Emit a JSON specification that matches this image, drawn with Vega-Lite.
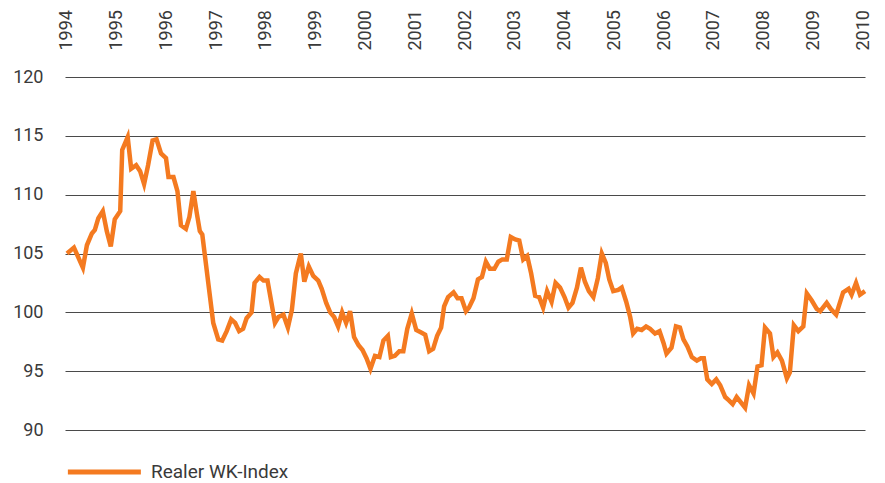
{
  "$schema": "https://vega.github.io/schema/vega-lite/v6.json",
  "autosize": {"type": "none"},
  "padding": {"left": 65, "top": 77, "right": 20, "bottom": 53},
  "width": 800,
  "height": 353,
  "background": "white",
  "config": {
    "view": {"stroke": null},
    "font": "Roboto",
    "axis": {"labelFont": "Roboto", "labelColor": "#3a3a3a", "labelFontSize": 18, "ticks": false, "domain": false, "title": null},
    "legend": {"labelFont": "Roboto", "labelColor": "#3a3a3a", "labelFontSize": 19, "labelLimit": 400}
  },
  "data": {"values": [
    {"t": 1994.00, "v": 105.0}, {"t": 1994.14, "v": 105.5}, {"t": 1994.32, "v": 103.8}, {"t": 1994.40, "v": 105.7},
    {"t": 1994.50, "v": 106.7}, {"t": 1994.56, "v": 107.0}, {"t": 1994.63, "v": 108.0}, {"t": 1994.72, "v": 108.6},
    {"t": 1994.80, "v": 106.9}, {"t": 1994.88, "v": 105.6}, {"t": 1994.96, "v": 107.9}, {"t": 1995.07, "v": 108.6},
    {"t": 1995.11, "v": 113.8}, {"t": 1995.22, "v": 114.9}, {"t": 1995.29, "v": 112.2}, {"t": 1995.39, "v": 112.5},
    {"t": 1995.47, "v": 112.0}, {"t": 1995.55, "v": 110.9}, {"t": 1995.63, "v": 112.5}, {"t": 1995.72, "v": 114.6},
    {"t": 1995.80, "v": 114.7}, {"t": 1995.89, "v": 113.5}, {"t": 1995.99, "v": 113.1}, {"t": 1996.04, "v": 111.5},
    {"t": 1996.14, "v": 111.5}, {"t": 1996.22, "v": 110.3}, {"t": 1996.29, "v": 107.4}, {"t": 1996.39, "v": 107.1},
    {"t": 1996.46, "v": 108.1}, {"t": 1996.54, "v": 110.3}, {"t": 1996.61, "v": 108.4}, {"t": 1996.67, "v": 106.9},
    {"t": 1996.72, "v": 106.6}, {"t": 1996.84, "v": 102.5}, {"t": 1996.94, "v": 99.1}, {"t": 1997.04, "v": 97.7},
    {"t": 1997.12, "v": 97.6}, {"t": 1997.21, "v": 98.4}, {"t": 1997.30, "v": 99.4}, {"t": 1997.38, "v": 99.1},
    {"t": 1997.46, "v": 98.4}, {"t": 1997.54, "v": 98.6}, {"t": 1997.61, "v": 99.5}, {"t": 1997.71, "v": 100.0},
    {"t": 1997.77, "v": 102.5}, {"t": 1997.87, "v": 103.0}, {"t": 1997.95, "v": 102.7}, {"t": 1998.03, "v": 102.7},
    {"t": 1998.11, "v": 100.8}, {"t": 1998.18, "v": 99.1}, {"t": 1998.25, "v": 99.6}, {"t": 1998.35, "v": 99.8},
    {"t": 1998.44, "v": 98.7}, {"t": 1998.52, "v": 100.2}, {"t": 1998.60, "v": 103.3}, {"t": 1998.70, "v": 105.0},
    {"t": 1998.77, "v": 102.6}, {"t": 1998.86, "v": 103.9}, {"t": 1998.95, "v": 103.1}, {"t": 1999.05, "v": 102.7},
    {"t": 1999.12, "v": 102.0}, {"t": 1999.21, "v": 100.8}, {"t": 1999.29, "v": 100.0}, {"t": 1999.37, "v": 99.6},
    {"t": 1999.45, "v": 98.8}, {"t": 1999.53, "v": 100.0}, {"t": 1999.61, "v": 99.1}, {"t": 1999.69, "v": 100.1},
    {"t": 1999.77, "v": 97.9}, {"t": 1999.86, "v": 97.2}, {"t": 1999.94, "v": 96.8}, {"t": 2000.02, "v": 96.1},
    {"t": 2000.10, "v": 95.2}, {"t": 2000.19, "v": 96.3}, {"t": 2000.28, "v": 96.2}, {"t": 2000.36, "v": 97.6},
    {"t": 2000.45, "v": 98.0}, {"t": 2000.51, "v": 96.2}, {"t": 2000.59, "v": 96.3}, {"t": 2000.68, "v": 96.7},
    {"t": 2000.76, "v": 96.7}, {"t": 2000.84, "v": 98.6}, {"t": 2000.93, "v": 99.9}, {"t": 2001.02, "v": 98.5},
    {"t": 2001.11, "v": 98.3}, {"t": 2001.20, "v": 98.1}, {"t": 2001.28, "v": 96.7}, {"t": 2001.36, "v": 96.9},
    {"t": 2001.44, "v": 98.0}, {"t": 2001.52, "v": 98.7}, {"t": 2001.58, "v": 100.5}, {"t": 2001.66, "v": 101.3},
    {"t": 2001.77, "v": 101.7}, {"t": 2001.85, "v": 101.2}, {"t": 2001.93, "v": 101.2}, {"t": 2002.02, "v": 100.1},
    {"t": 2002.08, "v": 100.4}, {"t": 2002.17, "v": 101.2}, {"t": 2002.26, "v": 102.8}, {"t": 2002.34, "v": 103.0},
    {"t": 2002.42, "v": 104.3}, {"t": 2002.50, "v": 103.7}, {"t": 2002.59, "v": 103.7}, {"t": 2002.67, "v": 104.3},
    {"t": 2002.75, "v": 104.5}, {"t": 2002.84, "v": 104.5}, {"t": 2002.92, "v": 106.4}, {"t": 2003.01, "v": 106.2},
    {"t": 2003.09, "v": 106.1}, {"t": 2003.17, "v": 104.5}, {"t": 2003.25, "v": 104.8}, {"t": 2003.33, "v": 103.3},
    {"t": 2003.41, "v": 101.4}, {"t": 2003.49, "v": 101.3}, {"t": 2003.57, "v": 100.4}, {"t": 2003.65, "v": 101.8},
    {"t": 2003.74, "v": 100.9}, {"t": 2003.82, "v": 102.5}, {"t": 2003.91, "v": 102.1}, {"t": 2004.00, "v": 101.3},
    {"t": 2004.08, "v": 100.4}, {"t": 2004.16, "v": 100.8}, {"t": 2004.25, "v": 102.1}, {"t": 2004.33, "v": 103.8},
    {"t": 2004.41, "v": 102.6}, {"t": 2004.49, "v": 101.8}, {"t": 2004.58, "v": 101.3}, {"t": 2004.67, "v": 102.9},
    {"t": 2004.75, "v": 105.0}, {"t": 2004.83, "v": 104.2}, {"t": 2004.90, "v": 102.8}, {"t": 2004.98, "v": 101.8},
    {"t": 2005.08, "v": 101.9}, {"t": 2005.15, "v": 102.1}, {"t": 2005.24, "v": 100.9}, {"t": 2005.32, "v": 99.6},
    {"t": 2005.38, "v": 98.2}, {"t": 2005.46, "v": 98.6}, {"t": 2005.55, "v": 98.5}, {"t": 2005.64, "v": 98.8},
    {"t": 2005.72, "v": 98.6}, {"t": 2005.82, "v": 98.2}, {"t": 2005.91, "v": 98.4}, {"t": 2005.99, "v": 97.4},
    {"t": 2006.05, "v": 96.5}, {"t": 2006.15, "v": 97.0}, {"t": 2006.24, "v": 98.8}, {"t": 2006.32, "v": 98.7},
    {"t": 2006.39, "v": 97.7}, {"t": 2006.47, "v": 97.1}, {"t": 2006.56, "v": 96.2}, {"t": 2006.66, "v": 95.9},
    {"t": 2006.74, "v": 96.1}, {"t": 2006.80, "v": 96.1}, {"t": 2006.87, "v": 94.3}, {"t": 2006.96, "v": 93.9},
    {"t": 2007.05, "v": 94.3}, {"t": 2007.13, "v": 93.8}, {"t": 2007.23, "v": 92.8}, {"t": 2007.31, "v": 92.5},
    {"t": 2007.38, "v": 92.2}, {"t": 2007.46, "v": 92.8}, {"t": 2007.63, "v": 91.9}, {"t": 2007.71, "v": 93.8},
    {"t": 2007.80, "v": 93.1}, {"t": 2007.88, "v": 95.4}, {"t": 2007.96, "v": 95.5}, {"t": 2008.03, "v": 98.7},
    {"t": 2008.13, "v": 98.2}, {"t": 2008.20, "v": 96.2}, {"t": 2008.28, "v": 96.6}, {"t": 2008.37, "v": 95.9},
    {"t": 2008.47, "v": 94.4}, {"t": 2008.53, "v": 94.9}, {"t": 2008.61, "v": 98.9}, {"t": 2008.70, "v": 98.4},
    {"t": 2008.80, "v": 98.8}, {"t": 2008.87, "v": 101.6}, {"t": 2008.97, "v": 101.0}, {"t": 2009.07, "v": 100.3},
    {"t": 2009.14, "v": 100.1}, {"t": 2009.27, "v": 100.8}, {"t": 2009.35, "v": 100.3}, {"t": 2009.46, "v": 99.8},
    {"t": 2009.60, "v": 101.7}, {"t": 2009.71, "v": 102.0}, {"t": 2009.77, "v": 101.5}, {"t": 2009.86, "v": 102.5},
    {"t": 2009.94, "v": 101.5}, {"t": 2010.04, "v": 101.8}
  ]},
  "mark": {"type": "line", "strokeWidth": 4.5, "strokeJoin": "miter", "interpolate": "linear"},
  "encoding": {
    "x": {
      "field": "t", "type": "quantitative",
      "scale": {"domain": [1993.96, 2010.04], "nice": false, "zero": false},
      "axis": {"orient": "top", "values": [1994,1995,1996,1997,1998,1999,2000,2001,2002,2003,2004,2005,2006,2007,2008,2009,2010], "format": "d", "labelAngle": -90, "labelPadding": 27, "grid": false, "labelFlush": false, "labelOverlap": false}
    },
    "y": {
      "field": "v", "type": "quantitative",
      "scale": {"domain": [90, 120], "nice": false, "zero": false},
      "axis": {"values": [90, 95, 100, 105, 110, 115, 120], "labelPadding": 22, "grid": true, "gridColor": "#4a4a4a", "gridWidth": 1.2}
    },
    "color": {
      "datum": "Realer WK-Index", "type": "nominal",
      "scale": {"range": ["#F47A20"]},
      "legend": {"title": null, "orient": "none", "legendX": 0, "legendY": 383, "symbolType": "M-1,0H7", "symbolSize": 333, "symbolStrokeWidth": 5, "labelOffset": 62, "padding": 0}
    }
  }
}
